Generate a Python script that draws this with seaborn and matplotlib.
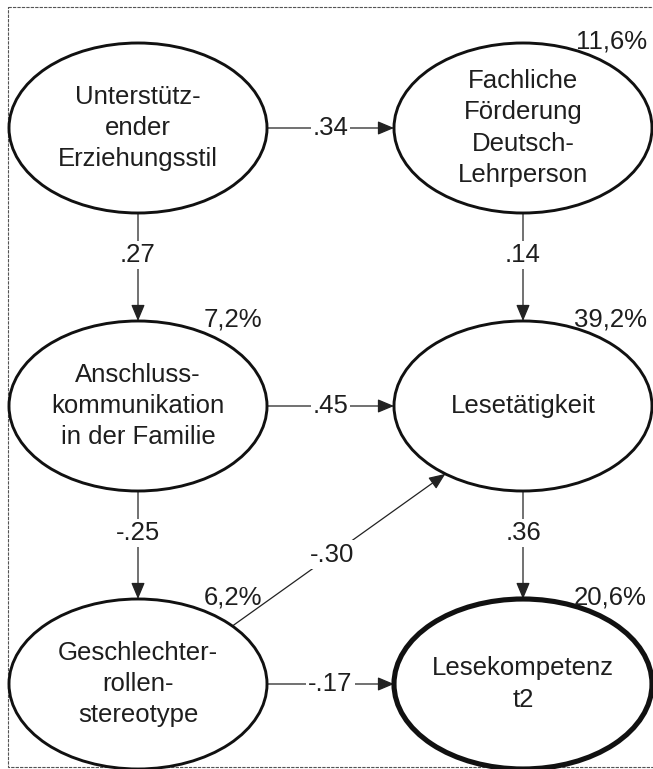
# %%
# set up
import numpy as np
import matplotlib
matplotlib.use('Agg')
from matplotlib import pyplot as plt
from matplotlib.patches import Ellipse, Rectangle
import seaborn as sns

sns.set_theme(style='white')
plt.rcParams['font.family'] = ['Liberation Sans', 'DejaVu Sans']

# %%
# data: path model
nodes = ['erziehung', 'foerderung', 'anschluss', 'lesen', 'stereotyp', 'kompetenz']
node_labels = ['Unterstütz-\nender\nErziehungsstil',
               'Fachliche\nFörderung\nDeutsch-\nLehrperson',
               'Anschluss-\nkommunikation\nin der Familie',
               'Lesetätigkeit',
               'Geschlechter-\nrollen-\nstereotype',
               'Lesekompetenz\nt2']
r2_labels = ['', '11,6%', '7,2%', '39,2%', '6,2%', '20,6%']

path_from = ['erziehung', 'erziehung', 'foerderung', 'anschluss', 'anschluss', 'lesen', 'stereotyp', 'stereotyp']
path_to = ['foerderung', 'anschluss', 'lesen', 'lesen', 'stereotyp', 'kompetenz', 'lesen', 'kompetenz']
path_coef = ['.34', '.27', '.14', '.45', '-.25', '.36', '-.30', '-.17']

# %%
# layout (grid column / row for every node)
grid = {'erziehung': (0, 0), 'foerderung': (1, 0),
        'anschluss': (0, 1), 'lesen': (1, 1),
        'stereotyp': (0, 2), 'kompetenz': (1, 2)}
x0, y0, dx, dy = 138, 128, 385, 278
a, b = 129, 85
fs = 18.5
ink = '#1e1e1e'

centers = {n: (x0 + c * dx, y0 + r * dy) for n, (c, r) in grid.items()}


def edge(n, ang):
    cx, cy = centers[n]
    t = np.deg2rad(ang)
    return cx + a * np.cos(t), cy - b * np.sin(t)


def endpoints(s, t):
    (c1, r1), (c2, r2) = grid[s], grid[t]
    if r1 == r2:
        return edge(s, 0), edge(t, 180), 0.5
    if c1 == c2:
        return edge(s, 270), edge(t, 90), 0.385
    return edge(s, 43), edge(t, 233), 0.47


fig = plt.figure(figsize=(6.53, 7.69), dpi=100)
ax = fig.add_axes([0, 0, 1, 1])
ax.set_xlim(0, 653)
ax.set_ylim(769, 0)
ax.axis('off')

ax.add_patch(Rectangle((8, 7), 660, 760, fill=False, lw=0.8,
                       ec='#555555', ls=(0, (3, 1)), zorder=0))

for n, lab, r2 in zip(nodes, node_labels, r2_labels):
    cx, cy = centers[n]
    lw = 3.7 if n == 'kompetenz' else 2.1
    ax.add_patch(Ellipse((cx, cy), 2 * a, 2 * b, fill=True, fc='white',
                         ec='#111111', lw=lw, zorder=3))
    ax.text(cx, cy, lab, ha='center', va='center', fontsize=fs,
            color=ink, linespacing=1.38, zorder=4)
    if r2:
        ax.text(cx + 124, cy - b - 2, r2, ha='right', va='center',
                fontsize=fs, color=ink, zorder=5)

for s, t, coef in zip(path_from, path_to, path_coef):
    p1, p2, frac = endpoints(s, t)
    ax.annotate('', xy=p2, xytext=p1,
                arrowprops=dict(arrowstyle='-|>,head_length=1.0,head_width=0.42',
                                mutation_scale=10, lw=0.9, color='#222222',
                                shrinkA=0, shrinkB=0), zorder=2)
    lx = p1[0] + frac * (p2[0] - p1[0])
    ly = p1[1] + frac * (p2[1] - p1[1])
    ax.text(lx, ly, coef, ha='center', va='center', fontsize=fs, color=ink,
            bbox=dict(fc='white', ec='none', pad=1.5), zorder=2.5)

fig.savefig('out.png', dpi=100)
